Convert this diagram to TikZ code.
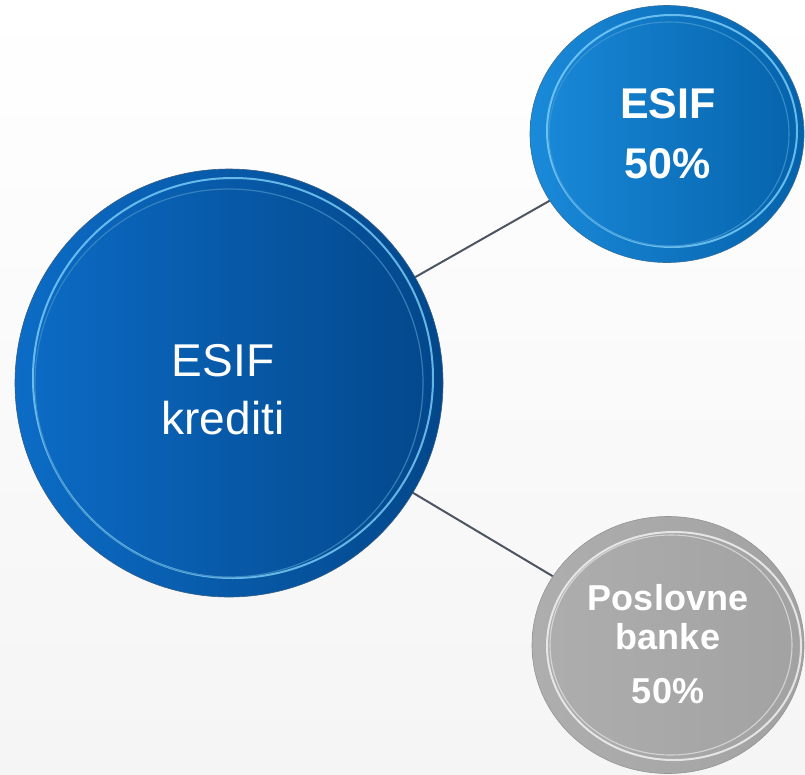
\documentclass[tikz,border=0pt]{standalone}
\usepackage{fontspec}
\setmainfont{Liberation Sans}
\usetikzlibrary{shapes.geometric}
\definecolor{bigL}{HTML}{0C6CC6}
\definecolor{bigR}{HTML}{03478A}
\definecolor{topL}{HTML}{1A8ADA}
\definecolor{topR}{HTML}{0562AA}
\definecolor{grL}{HTML}{AEAEAE}
\definecolor{grR}{HTML}{A2A2A2}
\definecolor{linkc}{HTML}{4D5562}
\definecolor{ringB}{HTML}{7FD0FA}
\begin{document}
\begin{tikzpicture}[x=1pt,y=-1pt,
  bubble/.style={ellipse, inner sep=0pt, draw=#1, line width=0.6pt},
  link/.style={draw=linkc, line width=2pt},
  ringline/.style={draw=#1, line width=2pt, opacity=0.8},
  txt/.style={text=white, align=center, inner sep=0pt}
]
\useasboundingbox (0,0) rectangle (805,774);
\fill[top color=white, bottom color=white!96!black] (0,0) rectangle (805,774);

% connectors (drawn first, under bubbles)
\coordinate (cbig) at (229,383);
\coordinate (ctop) at (667,134);
\coordinate (cbot) at (668,645);
\draw[link] (cbig) -- (ctop);
\draw[link] (cbig) -- (cbot);

% bubbles
\node[bubble=bigR!60!gray, minimum width=428pt, minimum height=428pt, left color=bigL, right color=bigR] (big) at (cbig) {};
\node[bubble=topR!60!gray, minimum width=274pt, minimum height=257pt, left color=topL, right color=topR] (top) at (ctop) {};
\node[bubble=grR!60!gray, minimum width=272pt, minimum height=257pt, left color=grL, right color=grR] (bot) at (cbot) {};

% inner rings
\draw[ringline=ringB] ([xshift=4pt,yshift=5pt]big.center) circle[radius=200];
\draw[ringline=ringB!50!bigR, line width=1.2pt] (big.center) circle[radius=194];
\draw[ringline=ringB] ([xshift=5pt,yshift=3pt]top.center) circle[x radius=125, y radius=116];
\draw[ringline=ringB!50!topR, line width=1.1pt] ([xshift=2pt]top.center) circle[x radius=120, y radius=112];
\draw[ringline=white!92!gray] ([xshift=6pt,yshift=-1pt]bot.center) circle[x radius=127, y radius=114];
\draw[ringline=white!75!gray, line width=1.1pt] ([xshift=3pt]bot.center) circle[x radius=121, y radius=110];

% texts
\node[txt, font=\fontsize{46}{58}\selectfont, anchor=base] (bigt1) at (223,376) {ESIF};
\node[txt, font=\fontsize{46}{58}\selectfont, anchor=base] (bigt2) at (223,434) {krediti};
\node[txt, font=\fontsize{43}{58}\selectfont\bfseries, anchor=base] (topt1) at (668,118) {ESIF};
\node[txt, font=\fontsize{43}{58}\selectfont\bfseries, anchor=base] (topt2) at (668,178) {50\%};
\node[txt, font=\fontsize{36}{40}\selectfont\bfseries, anchor=base] (bott1) at (668,610) {Poslovne};
\node[txt, font=\fontsize{36}{40}\selectfont\bfseries, anchor=base] (bott2) at (668,649) {banke};
\node[txt, font=\fontsize{36}{40}\selectfont\bfseries, anchor=base] (bott3) at (668,703) {50\%};
\end{tikzpicture}
\end{document}
